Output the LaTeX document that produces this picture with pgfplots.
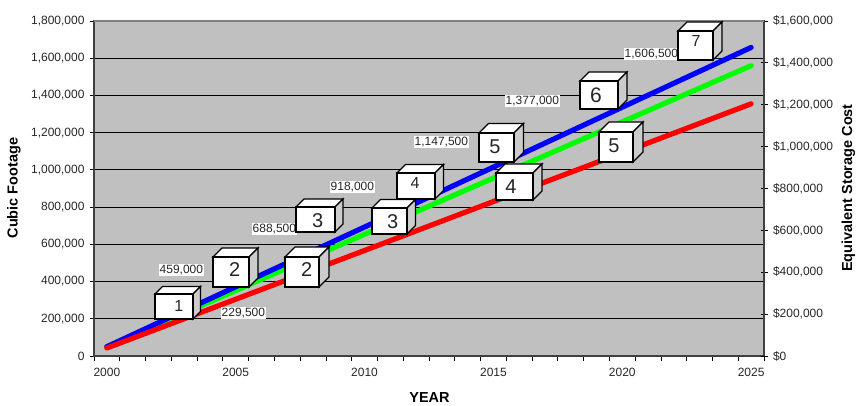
\documentclass[border=0pt]{standalone}
\usepackage{pgfplots}
\usepackage{fontspec}
\setmainfont{Liberation Sans}
\pgfplotsset{compat=1.18}
\definecolor{plotbg}{HTML}{C0C0C0}
\definecolor{axisdark}{HTML}{404040}
\definecolor{sideface}{HTML}{CCCCCC}

% Numbered storage block: left, top, right, bottom, depth, digit x, digit y, digit size, digit.
% Vertical positions are measured downward from the top of the 405-high page.
\newcommand{\storagecube}[9]{%
  \draw[black,line width=1.3pt,line join=miter,fill=white]
    (#1,405-#2) -- (#1+#5,405-#2+#5) -- (#3+#5,405-#2+#5) -- (#3,405-#2) -- cycle;
  \draw[black,line width=1.3pt,line join=miter,fill=sideface]
    (#3,405-#2) -- (#3+#5,405-#2+#5) -- (#3+#5,405-#4+#5) -- (#3,405-#4) -- cycle;
  \draw[black,line width=1.4pt,line join=miter,fill=white] (#1,405-#2) rectangle (#3,405-#4);
  \node[font=\fontsize{#8}{#8}\selectfont,inner sep=0pt,text=black!85] at (#6,405-#7) {#9};
}
% Cumulative volume caption on a white patch
\newcommand{\volumelabel}[3]{%
  \node[fill=white,inner xsep=0.5pt,inner ysep=1.5pt,font=\fontsize{12}{13}\selectfont,text=black!85,anchor=west]
    at (#1,405-#2) {#3};
}

\begin{document}
\begin{tikzpicture}[x=1pt,y=1pt]
\useasboundingbox (0,0) rectangle (857,405);

\pgfplotsset{
  tanksaxis/.style={
    at={(94pt,49pt)}, anchor=south west,
    scale only axis, width=670pt, height=335pt,
    xmin=1999.5, xmax=2025.5, ymin=0,
    clip=false,
    tick align=outside,
    major tick length=4pt,
    tick style={black,line width=0.8pt},
    scaled y ticks=false,
    /pgf/number format/assume math mode=true,
    /pgf/number format/fixed,
    /pgf/number format/1000 sep={,},
    tick label style={font=\fontsize{12}{13}\selectfont,text=black!85},
  }
}

\begin{axis}[
  tanksaxis,
  axis background/.style={fill=plotbg},
  axis line style={axisdark,line width=1.4pt},
  ymax=1800000,
  ytick={0,200000,...,1800000},
  ytick pos=left,
  ymajorgrids,
  grid style={black,line width=0.8pt},
  xtick={2000,2005,2010,2015,2020,2025},
  xticklabels={2000,2005,2010,2015,2020,2025},
  xtick pos=bottom,
  minor xtick={1999.5,2000.5,...,2025.5},
  major x tick style={draw=none},
  minor x tick style={black,line width=0.8pt},
  minor tick length=5pt,
  xticklabel style={yshift=-5pt},
  yticklabel style={xshift=-2pt},
]
\addplot[green,line width=5.2pt,line cap=round] coordinates {
  (2000,50000) (2005,352000) (2010,654000) (2015,956000) (2020,1258000) (2025,1560000)};
\addplot[blue,line width=5.2pt,line cap=round] coordinates {
  (2000,50000) (2005,372000) (2010,693000) (2015,1015000) (2020,1337000) (2025,1658000)};
\addplot[red,line width=5.2pt,line cap=round] coordinates {
  (2000,43000) (2005,305000) (2010,567000) (2015,830000) (2020,1092000) (2025,1355000)};
\end{axis}

\begin{axis}[
  tanksaxis,
  axis y line*=right,
  axis x line=none,
  axis line style={axisdark,line width=1.4pt},
  ymax=1600000,
  ytick={0,200000,...,1600000},
  tick align=center,
  major tick length=7pt,
  yticklabel={\$\pgfmathprintnumber{\tick}},
  yticklabel style={xshift=2pt},
]
\end{axis}

% Upper frame edge
\draw[gray,line width=1.6pt] (94,384) -- (764,384);

% Axis titles
\node[rotate=90,font=\bfseries\fontsize{14.5}{16}\selectfont] at (14,405-188) {Cubic Footage};
\node[rotate=90,font=\bfseries\fontsize{14.5}{16}\selectfont] at (848.5,405-188) {Equivalent Storage Cost};
\node[font=\bfseries\fontsize{14.5}{16}\selectfont] at (429.5,405-398) {YEAR};

% Cumulative volumes
\volumelabel{159}{270}{459,000}
\volumelabel{221}{313}{229,500}
\volumelabel{252}{229}{688,500}
\volumelabel{330}{187}{918,000}
\volumelabel{414}{142}{1,147,500}
\volumelabel{505}{101}{1,377,000}
\volumelabel{624}{54}{1,606,500}

% Numbered blocks
\storagecube{155}{294}{193}{319}{7.5}{178.7}{305.7}{16}{1}
\storagecube{213}{257}{249}{287}{9}{234.7}{270}{20}{2}
\storagecube{285}{257}{319}{287}{10}{306.7}{270}{20}{2}
\storagecube{296}{207}{335}{232}{8}{317.7}{220.7}{20}{3}
\storagecube{372}{208}{407}{234}{8.5}{392.7}{221.7}{20}{3}
\storagecube{397}{173}{435}{199}{8.5}{415}{183}{16}{4}
\storagecube{496}{173}{533}{200}{9}{511}{187}{20}{4}
\storagecube{479}{133}{514}{162}{9.5}{495}{147}{20}{5}
\storagecube{599}{132}{633}{162}{10}{614}{146}{20}{5}
\storagecube{580}{81}{618}{109}{9}{596}{95}{21}{6}
\storagecube{678}{31}{713}{60}{9}{696}{41}{16}{7}
\end{tikzpicture}
\end{document}
